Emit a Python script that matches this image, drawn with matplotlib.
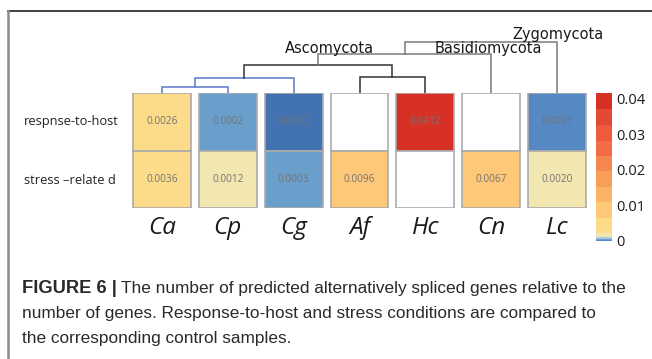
import numpy as np
import matplotlib
matplotlib.use("Agg")
import matplotlib.pyplot as plt
from matplotlib.colors import ListedColormap, BoundaryNorm
from matplotlib.lines import Line2D

species = ["Ca", "Cp", "Cg", "Af", "Hc", "Cn", "Lc"]
conditions = ["respnse-to-host", "stress \u2013relate d"]
response_to_host = [0.0026, 0.0002, 0.0000, np.nan, 0.0412, np.nan, 0.0001]
stress_related = [0.0036, 0.0012, 0.0003, 0.0096, np.nan, 0.0067, 0.0020]

# colour scale (stepped, blue only for the near-zero values)
bounds = [0, 0.00005, 0.00015, 0.0005, 0.0011, 0.0023, 0.0066, 0.011,
          0.0153, 0.0196, 0.0239, 0.0283, 0.0327, 0.0372, 0.0416]
colors = ["#4372b3", "#5689c3", "#6a9fcb", "#a8c8e0", "#f2e6b1", "#fcdc8b",
          "#fdc877", "#fbb464", "#f99e59", "#f5864f", "#f26d45", "#ee5a3c",
          "#e34a33", "#d73027"]
cbar_ticks = [0, 0.01, 0.02, 0.03, 0.04]

# dendrogram: (left x, right x, left bottom, right bottom, height, colour)
h_cacp, h_cand, h_afhc, h_asco, h_basi, h_zygo = 6, 15, 16, 28, 39, 51
n_cacp = 0.5
n_cand = (n_cacp + 2) / 2
n_afhc = 3.5
n_asco = (n_cand + n_afhc) / 2
n_basi = (n_asco + 5) / 2
links = [
    (0, 1, 0, 0, h_cacp, "#5a78c8"),
    (n_cacp, 2, h_cacp, 0, h_cand, "#5a78c8"),
    (3, 4, 0, 0, h_afhc, "#333333"),
    (n_cand, n_afhc, h_cand, h_afhc, h_asco, "#333333"),
    (n_asco, 5, h_asco, 0, h_basi, "#7a7a7a"),
    (n_basi, 6, h_basi, 0, h_zygo, "#7a7a7a"),
]
clades = [("Ascomycota", 2.54, 45), ("Basidiomycota", 4.95, 45), ("Zygomycota", 6.01, 59)]

cmap = ListedColormap(colors)
norm = BoundaryNorm(bounds, cmap.N)

W, H = 652, 359
fig = plt.figure(figsize=(W / 100, H / 100), dpi=100)

def box(x0, y0, x1, y1):
    return [x0 / W, 1 - y1 / H, (x1 - x0) / W, (y1 - y0) / H]

# heatmap
ax = fig.add_axes(box(129, 93, 590, 208))
rows = [response_to_host, stress_related]
for r, vals in enumerate(rows):
    for i, v in enumerate(vals):
        fc = "white" if np.isnan(v) else cmap(norm(v))
        ax.bar(i, 1, bottom=1 - r, width=0.88, color=fc, edgecolor="#ababab",
               linewidth=1.2, align="center")
        if not np.isnan(v):
            ax.text(i, 1.5 - r, f"{v:.4f}", ha="center", va="center",
                    fontsize=7.3, color="#737373", family="Open Sans")
ax.set_xlim(-0.5, len(species) - 0.5)
ax.set_ylim(0, 2)
ax.set_xticks(range(len(species)))
ax.set_xticklabels(species, fontsize=17.5, style="italic", family="Open Sans",
                   color="#1a1a1a")
ax.tick_params(axis="x", length=0, pad=6)
ax.set_yticks([])
for s in ax.spines.values():
    s.set_visible(False)

for r, lab in enumerate(conditions):
    fig.text(24 / W, 1 - (122 + 58 * r) / H, lab, fontsize=9.3, family="Open Sans",
             color="#222222", ha="left", va="center")

# dendrogram
dax = fig.add_axes(box(129, 20, 590, 93))
for xl, xr, yl, yr, hh, c in links:
    dax.plot([xl, xl, xr, xr], [yl, hh, hh, yr], color=c, lw=1.1,
             solid_joinstyle="miter")
for name, x, y in clades:
    dax.text(x, y, name, ha="center", va="center", fontsize=10.5,
             family="DejaVu Sans", color="#1a1a1a")
dax.set_xlim(-0.5, len(species) - 0.5)
dax.set_ylim(0, 73)
dax.axis("off")

# colorbar
cax = fig.add_axes(box(596, 93.3, 612, 241))
sm = plt.cm.ScalarMappable(norm=norm, cmap=cmap)
cb = fig.colorbar(sm, cax=cax, boundaries=bounds, spacing="proportional",
                  ticks=cbar_ticks)
cb.set_ticklabels(["0", "0.01", "0.02", "0.03", "0.04"])
cb.outline.set_visible(False)
cb.minorticks_off()
cax.yaxis.set_tick_params(which="both", length=0, width=0, labelsize=10.5,
                          pad=3, colors="#1a1a1a")
for t in cax.get_yticklabels():
    t.set_family("Open Sans")

# frame
fig.add_artist(Line2D([8 / W, 1], [1 - 11 / H, 1 - 11 / H], color="#333333", lw=1.3))
fig.add_artist(Line2D([8 / W, 8 / W], [0, 1 - 11 / H], color="#8a8a8a", lw=1.8))

# caption
cap_font = dict(fontsize=12.4, family="Liberation Sans", color="#2a2a2a",
                va="baseline", ha="left")
tb = fig.text(22 / W, 1 - 293 / H, "FIGURE 6 |", fontweight="bold",
              **dict(cap_font, fontsize=13.2))
fig.canvas.draw()
bb = tb.get_window_extent()
fig.text((bb.x1 + 4) / W, 1 - 293 / H,
         "The number of predicted alternatively spliced genes relative to the",
         **cap_font)
fig.text(22 / W, 1 - 318 / H,
         "number of genes. Response-to-host and stress conditions are compared to",
         **cap_font)
fig.text(22 / W, 1 - 343 / H, "the corresponding control samples.", **cap_font)

fig.savefig("out.png", dpi=100)
